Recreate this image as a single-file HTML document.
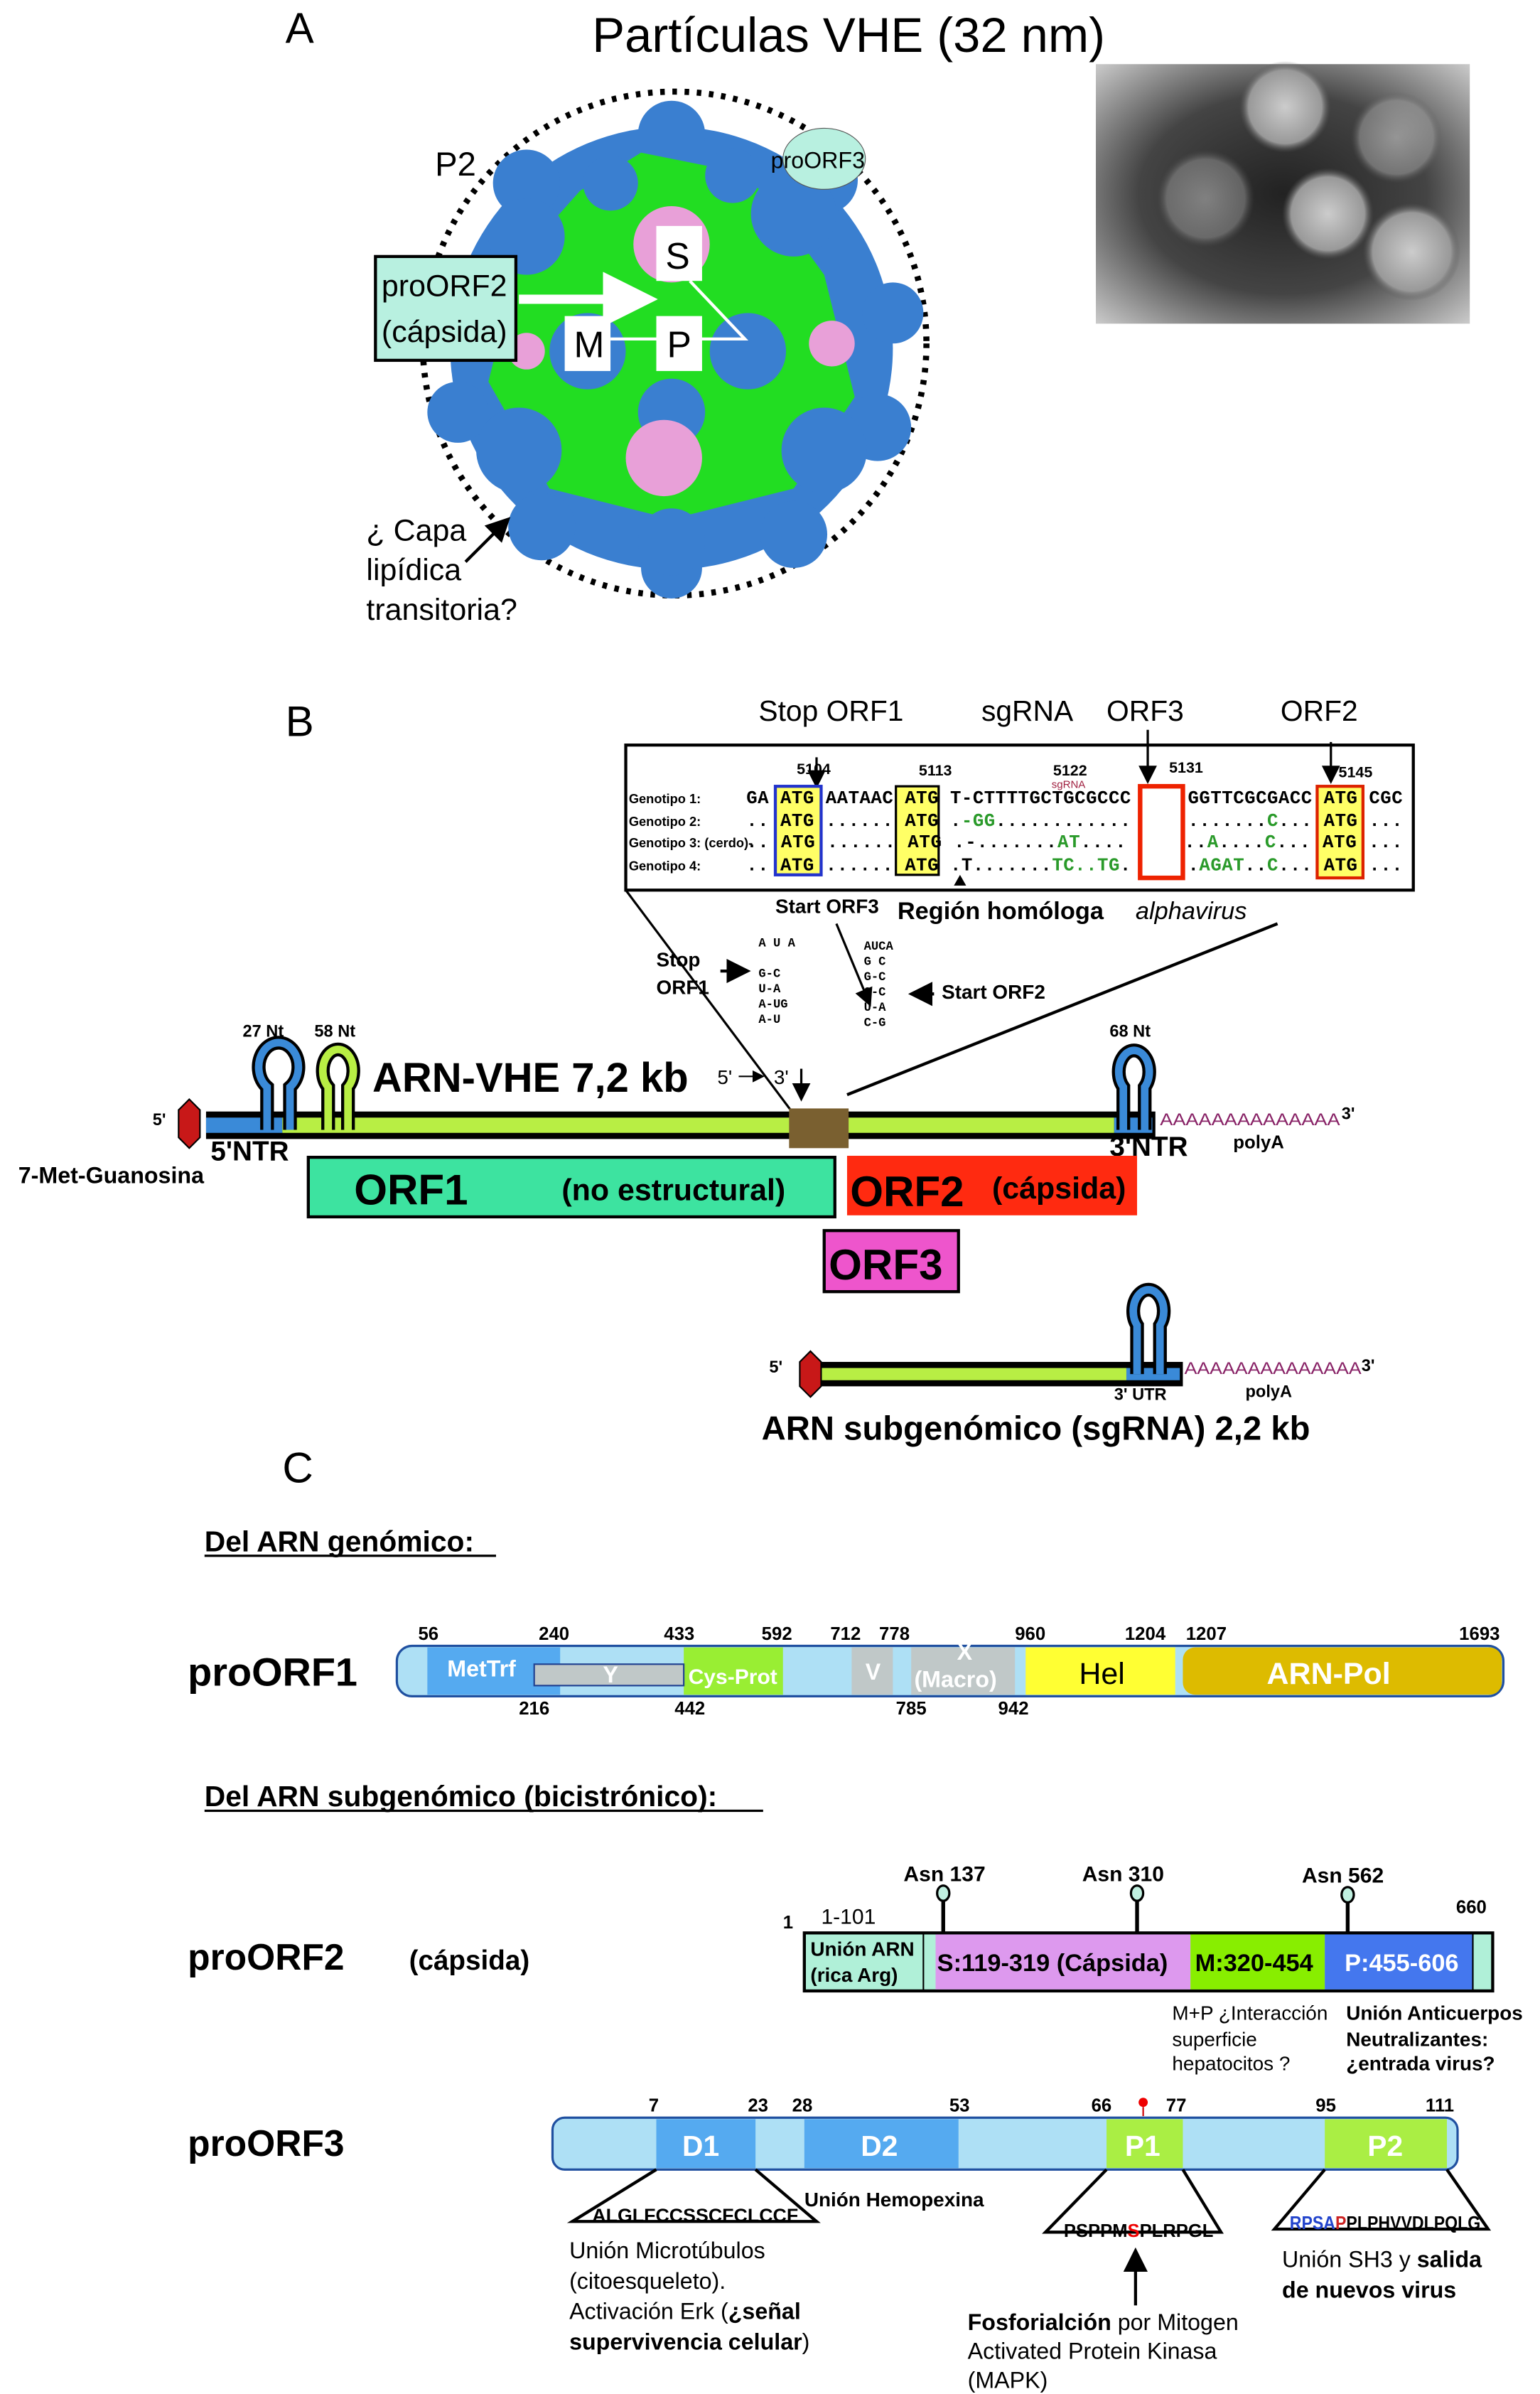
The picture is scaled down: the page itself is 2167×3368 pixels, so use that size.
<!DOCTYPE html>
<html><head><meta charset="utf-8"><style>
html,body{margin:0;padding:0;background:#fff}
svg{display:block}
text{font-family:"Liberation Sans Narrow","Liberation Sans",sans-serif}
text.m,text.m tspan{font-family:"Liberation Mono",monospace}
</style></head><body>
<svg width="2167" height="3368" viewBox="0 0 1009 1568" preserveAspectRatio="none" xmlns="http://www.w3.org/2000/svg">
<defs>
<radialGradient id="ph" cx="0.5" cy="0.5" r="0.7"><stop offset="0" stop-color="#222"/><stop offset="0.55" stop-color="#444"/><stop offset="1" stop-color="#c8c8c8"/></radialGradient>
<radialGradient id="vp" cx="0.5" cy="0.5" r="0.5"><stop offset="0" stop-color="#ccc"/><stop offset="0.8" stop-color="#999"/><stop offset="1" stop-color="#555" stop-opacity="0"/></radialGradient>
<marker id="ah" markerWidth="8" markerHeight="8" refX="7" refY="4" orient="auto"><path d="M0,0 L8,4 L0,8z" fill="#000"/></marker>
<marker id="aw" markerWidth="6" markerHeight="6" refX="5" refY="3" orient="auto"><path d="M0,0 L6,3 L0,6z" fill="#fff"/></marker>
</defs>
<!-- A -->
<text x="187" y="28" font-size="28">A</text>
<text x="388" y="34" font-size="32">Partículas VHE (32 nm)</text>
<ellipse cx="442" cy="225" rx="165" ry="165" fill="none" stroke="#000" stroke-width="4" stroke-dasharray="3,5"/>
<circle cx="440" cy="228" r="145" fill="#3a7fd0"/>
<g fill="#3a7fd0">
<circle cx="345" cy="120" r="22"/><circle cx="440" cy="88" r="22"/><circle cx="540" cy="118" r="22"/><circle cx="585" cy="205" r="20"/><circle cx="575" cy="280" r="22"/><circle cx="520" cy="350" r="22"/><circle cx="440" cy="372" r="20"/><circle cx="355" cy="345" r="22"/><circle cx="300" cy="270" r="20"/><circle cx="300" cy="190" r="18"/>
</g>
<path d="M380,125 L420,100 L470,110 L500,125 L540,180 L560,260 L520,320 L440,340 L360,320 L320,250 L340,170z" fill="#22dd22"/>
<g fill="#3a7fd0">
<circle cx="345" cy="155" r="25"/><circle cx="520" cy="140" r="28"/><circle cx="400" cy="120" r="18"/><circle cx="480" cy="115" r="18"/>
<circle cx="385" cy="230" r="25"/><circle cx="490" cy="230" r="25"/><circle cx="440" cy="270" r="22"/>
<circle cx="340" cy="295" r="28"/><circle cx="540" cy="295" r="28"/><circle cx="440" cy="355" r="22"/>
</g>
<g fill="#e8a0d8"><circle cx="440" cy="160" r="25"/><circle cx="435" cy="300" r="25"/><circle cx="545" cy="225" r="15"/><circle cx="345" cy="230" r="12"/></g>
<ellipse cx="540" cy="104" rx="27" ry="20" fill="#b8f0e0" stroke="#555" stroke-width="0.5"/>
<text x="505" y="110" font-size="15">proORF3</text>
<text x="285" y="115" font-size="22">P2</text>
<rect x="430" y="148" width="30" height="36" fill="#fff"/><text x="436" y="176" font-size="24">S</text>
<rect x="370" y="207" width="30" height="36" fill="#fff"/><text x="376" y="234" font-size="24">M</text>
<rect x="430" y="207" width="30" height="36" fill="#fff"/><text x="437" y="234" font-size="24">P</text>
<path d="M452,184 L488,222 L458,222 M400,222 L430,222" stroke="#fff" stroke-width="2" fill="none"/>
<line x1="340" y1="196" x2="425" y2="196" stroke="#fff" stroke-width="6" marker-end="url(#aw)"/>
<rect x="246" y="168" width="92" height="68" fill="#b8f0e0" stroke="#000" stroke-width="2"/>
<text x="250" y="194" font-size="20">proORF2</text><text x="250" y="224" font-size="20">(cápsida)</text>
<text x="240" y="354" font-size="20">¿ Capa</text><text x="240" y="380" font-size="20">lipídica</text><text x="240" y="406" font-size="20">transitoria?</text>
<line x1="305" y1="368" x2="333" y2="340" stroke="#000" stroke-width="2" marker-end="url(#ah)"/>
<rect x="718" y="42" width="245" height="170" fill="url(#ph)"/>
<circle cx="842" cy="70" r="30" fill="url(#vp)"/><circle cx="915" cy="90" r="30" fill="url(#vp)" opacity="0.6"/><circle cx="790" cy="130" r="32" fill="url(#vp)" opacity="0.5"/>
<circle cx="870" cy="140" r="30" fill="url(#vp)"/><circle cx="925" cy="165" r="32" fill="url(#vp)"/>
<!-- B -->
<text x="187" y="482" font-size="28">B</text>
<text x="497" y="472" font-size="19">Stop ORF1</text><text x="643" y="472" font-size="19">sgRNA</text><text x="725" y="472" font-size="19">ORF3</text><text x="839" y="472" font-size="19">ORF2</text>
<rect x="410" y="488" width="516" height="95" fill="#fff" stroke="#000" stroke-width="2"/>
<line x1="752" y1="478" x2="752" y2="512" stroke="#000" stroke-width="1.5" marker-end="url(#ah)"/>
<line x1="872" y1="486" x2="872" y2="512" stroke="#000" stroke-width="1.5" marker-end="url(#ah)"/>
<line x1="535" y1="496" x2="535" y2="515" stroke="#000" stroke-width="1.5" marker-end="url(#ah)"/>
<g font-size="10" font-weight="bold"><text x="522" y="507">5104</text><text x="602" y="508">5113</text><text x="690" y="508">5122</text><text x="766" y="506">5131</text><text x="877" y="509">5145</text></g>
<text x="689" y="516" font-size="7" fill="#a02040">sgRNA</text>
<rect x="508" y="515" width="30" height="58" fill="#ffff66" stroke="#2233cc" stroke-width="2"/>
<rect x="587" y="515" width="28" height="58" fill="#ffff66" stroke="#000" stroke-width="1.5"/>
<rect x="747" y="515" width="28" height="60" fill="#fff" stroke="#ee2200" stroke-width="3"/>
<rect x="863" y="515" width="30" height="60" fill="#ffff66" stroke="#dd2200" stroke-width="2"/>
<g font-size="8.5" font-weight="bold"><text x="412" y="526">Genotipo 1:</text><text x="412" y="541">Genotipo 2:</text><text x="412" y="555">Genotipo 3: (cerdo)-</text><text x="412" y="570">Genotipo 4:</text></g>
<g font-size="12" font-weight="bold">
<text class="m" x="489" y="526" textLength="430" lengthAdjust="spacing" xml:space="preserve">GA ATG AATAAC ATG T-CTTTTGCTGCGCCC     GGTTCGCGACC ATG CGC</text>
<text class="m" x="489" y="541" textLength="430" lengthAdjust="spacing" xml:space="preserve">.. ATG ...... ATG .<tspan fill="#2a9a2a">-GG</tspan>............     .......<tspan fill="#2a9a2a">C</tspan>... ATG ...</text>
<text class="m" x="489" y="555" textLength="430" lengthAdjust="spacing" xml:space="preserve">.. ATG ...... ATG .-.......<tspan fill="#2a9a2a">AT</tspan>....     ..<tspan fill="#2a9a2a">A</tspan>....<tspan fill="#2a9a2a">C</tspan>... ATG ...</text>
<text class="m" x="489" y="570" textLength="430" lengthAdjust="spacing" xml:space="preserve">.. ATG ...... ATG .T.......<tspan fill="#2a9a2a">TC..TG</tspan>.     .<tspan fill="#2a9a2a">AGAT</tspan>..<tspan fill="#2a9a2a">C</tspan>... ATG ...</text>
</g>
<path d="M625,580 l4,-7 l4,7z" fill="#000"/>
<text x="508" y="598" font-size="13" font-weight="bold">Start ORF3</text>
<text x="588" y="602" font-size="16" font-weight="bold">Región homóloga</text><text x="744" y="602" font-size="16" font-style="italic">alphavirus</text>
<line x1="410" y1="583" x2="518" y2="727" stroke="#000" stroke-width="1.5"/>
<line x1="837" y1="605" x2="555" y2="717" stroke="#000" stroke-width="2"/>
<g font-size="8" font-weight="bold"><text class="m" x="497" y="620">A U A</text><text class="m" x="497" y="640">G-C</text><text class="m" x="497" y="650">U-A</text><text class="m" x="497" y="660">A-UG</text><text class="m" x="497" y="670">A-U</text>
<text class="m" x="566" y="622">AUCA</text><text class="m" x="566" y="632">G  C</text><text class="m" x="566" y="642">G-C</text><text class="m" x="566" y="652">G-C</text><text class="m" x="566" y="662">U-A</text><text class="m" x="566" y="672">C-G</text></g>
<text x="430" y="633" font-size="13" font-weight="bold">Stop</text><text x="430" y="651" font-size="13" font-weight="bold">ORF1</text>
<line x1="472" y1="636" x2="490" y2="636" stroke="#000" stroke-width="2" marker-end="url(#ah)"/>
<line x1="548" y1="605" x2="570" y2="658" stroke="#000" stroke-width="1.5" marker-end="url(#ah)"/>
<line x1="612" y1="651" x2="597" y2="651" stroke="#000" stroke-width="2" marker-end="url(#ah)"/>
<text x="617" y="654" font-size="13" font-weight="bold">Start ORF2</text>
<text x="159" y="679" font-size="11" font-weight="bold">27 Nt</text><text x="206" y="679" font-size="11" font-weight="bold">58 Nt</text><text x="727" y="679" font-size="11" font-weight="bold">68 Nt</text>
<!-- genome -->
<rect x="135" y="728" width="622" height="18" fill="#000"/>
<rect x="135" y="732" width="50" height="10" fill="#3a8ad8"/>
<rect x="185" y="732" width="545" height="10" fill="#b8ee44"/>
<rect x="730" y="732" width="25" height="10" fill="#3a8ad8"/>
<polygon points="117,727 124,720 131,727 131,745 124,752 117,745" fill="#c81818" stroke="#000"/>
<text x="100" y="737" font-size="11" font-weight="bold">5'</text>
<g fill="none" stroke-width="5"><path d="M175,740 L175,712 A13,16 0 1 1 190,712 L190,740" stroke="#000" stroke-width="9"/><path d="M175,740 L175,712 A13,16 0 1 1 190,712 L190,740" stroke="#3a8ad8"/>
<path d="M215,740 L215,712 A10,14 0 1 1 228,712 L228,740" stroke="#000" stroke-width="9"/><path d="M215,740 L215,712 A10,14 0 1 1 228,712 L228,740" stroke="#b8ee44"/>
<path d="M736,740 L736,712 A10,14 0 1 1 750,712 L750,740" stroke="#000" stroke-width="9"/><path d="M736,740 L736,712 A10,14 0 1 1 750,712 L750,740" stroke="#3a8ad8"/></g>
<text x="244" y="715" font-size="27" font-weight="bold">ARN-VHE 7,2 kb</text>
<text x="470" y="710" font-size="13">5'</text><line x1="484" y1="705" x2="500" y2="705" stroke="#000" marker-end="url(#ah)"/><text x="507" y="710" font-size="13">3'</text>
<line x1="525" y1="700" x2="525" y2="720" stroke="#000" stroke-width="1.5" marker-end="url(#ah)"/>
<rect x="517" y="726" width="39" height="26" fill="#7a6030"/>
<text x="760" y="737" font-size="11" fill="#882266" textLength="118" lengthAdjust="spacingAndGlyphs">AAAAAAAAAAAAAA</text><text x="879" y="733" font-size="11" font-weight="bold">3'</text>
<text x="138" y="760" font-size="18" font-weight="bold">5'NTR</text><text x="12" y="775" font-size="15" font-weight="bold">7-Met-Guanosina</text>
<text x="727" y="757" font-size="18" font-weight="bold">3'NTR</text><text x="808" y="752" font-size="12" font-weight="bold">polyA</text>
<rect x="202" y="758" width="345" height="39" fill="#3de3a0" stroke="#000" stroke-width="2"/>
<text x="232" y="789" font-size="28" font-weight="bold">ORF1</text><text x="368" y="786" font-size="20" font-weight="bold">(no estructural)</text>
<rect x="555" y="757" width="190" height="39" fill="#ff2a10"/>
<text x="557" y="790" font-size="28" font-weight="bold">ORF2</text><text x="650" y="785" font-size="20" font-weight="bold">(cápsida)</text>
<rect x="540" y="806" width="88" height="40" fill="#ee55cc" stroke="#000" stroke-width="2"/>
<text x="543" y="838" font-size="28" font-weight="bold">ORF3</text>
<!-- sgRNA -->
<rect x="538" y="892" width="237" height="16" fill="#000"/><rect x="538" y="896" width="200" height="8" fill="#b8ee44"/><rect x="738" y="896" width="35" height="8" fill="#3a8ad8"/>
<polygon points="524,892 531,885 538,892 538,908 531,915 524,908" fill="#c81818" stroke="#000"/>
<text x="504" y="899" font-size="11" font-weight="bold">5'</text>
<g fill="none"><path d="M745,900 L745,868 A10,14 0 1 1 760,868 L760,900" stroke="#000" stroke-width="9"/><path d="M745,900 L745,868 A10,14 0 1 1 760,868 L760,900" stroke="#3a8ad8" stroke-width="5"/></g>
<text x="776" y="900" font-size="11" fill="#882266" textLength="116" lengthAdjust="spacingAndGlyphs">AAAAAAAAAAAAAA</text><text x="892" y="898" font-size="11" font-weight="bold">3'</text>
<text x="730" y="917" font-size="11" font-weight="bold">3' UTR</text><text x="816" y="915" font-size="11" font-weight="bold">polyA</text>
<text x="499" y="943" font-size="22" font-weight="bold">ARN subgenómico (sgRNA) 2,2 kb</text>
<!-- C -->
<text x="185" y="971" font-size="28">C</text>
<text x="134" y="1016" font-size="19" font-weight="bold">Del ARN genómico:</text>
<line x1="134" y1="1019" x2="325" y2="1019" stroke="#000" stroke-width="1.5"/>
<text x="123" y="1104" font-size="26" font-weight="bold">proORF1</text>
<rect x="260" y="1078" width="725" height="33" rx="10" fill="#aee0f5" stroke="#2050a0" stroke-width="1.5"/>
<rect x="280" y="1079" width="87" height="31" fill="#55aaf0"/>
<rect x="448" y="1079" width="65" height="31" fill="#99ee33"/>
<rect x="558" y="1079" width="27" height="31" fill="#c0c8c8"/>
<rect x="597" y="1079" width="68" height="31" fill="#c0c8c8"/>
<rect x="672" y="1079" width="98" height="31" fill="#ffff33"/>
<rect x="775" y="1079" width="209" height="31" rx="8" fill="#ddbb00"/>
<rect x="350" y="1090" width="98" height="14" fill="#c0c8c8" stroke="#204090"/>
<g font-size="15" fill="#fff" font-weight="bold"><text x="293" y="1098">MetTrf</text><text x="395" y="1102">Y</text><text x="451" y="1103" font-size="14">Cys-Prot</text><text x="567" y="1100">V</text><text x="627" y="1087">X</text><text x="599" y="1105">(Macro)</text><text x="830" y="1103" font-size="20">ARN-Pol</text></g>
<text x="707" y="1103" font-size="20">Hel</text>
<g font-size="12" font-weight="bold"><text x="274" y="1074">56</text><text x="353" y="1074">240</text><text x="435" y="1074">433</text><text x="499" y="1074">592</text><text x="544" y="1074">712</text><text x="576" y="1074">778</text><text x="665" y="1074">960</text><text x="737" y="1074">1204</text><text x="777" y="1074">1207</text><text x="956" y="1074">1693</text>
<text x="340" y="1123">216</text><text x="442" y="1123">442</text><text x="587" y="1123">785</text><text x="654" y="1123">942</text></g>
<text x="134" y="1183" font-size="19" font-weight="bold">Del ARN subgenómico (bicistrónico):</text>
<line x1="134" y1="1186" x2="500" y2="1186" stroke="#000" stroke-width="1.5"/>
<text x="123" y="1290" font-size="24" font-weight="bold">proORF2</text><text x="268" y="1290" font-size="18" font-weight="bold">(cápsida)</text>
<g stroke="#000" stroke-width="2.5"><line x1="618" y1="1243" x2="618" y2="1267"/><line x1="745" y1="1243" x2="745" y2="1267"/><line x1="883" y1="1244" x2="883" y2="1267"/></g>
<g fill="#c0f0e0" stroke="#000" stroke-width="1.5"><ellipse cx="618" cy="1240" rx="4" ry="5"/><ellipse cx="745" cy="1240" rx="4" ry="5"/><ellipse cx="883" cy="1241" rx="4" ry="5"/></g>
<g font-size="14" font-weight="bold"><text x="592" y="1232">Asn 137</text><text x="709" y="1232">Asn 310</text><text x="853" y="1233">Asn 562</text></g>
<text x="954" y="1253" font-size="12" font-weight="bold">660</text><text x="513" y="1263" font-size="12" font-weight="bold">1</text><text x="538" y="1260" font-size="14">1-101</text>
<rect x="527" y="1266" width="451" height="38" fill="#b0f0d8" stroke="#000" stroke-width="2"/>
<rect x="613" y="1267" width="167" height="36" fill="#dd99ee"/><rect x="780" y="1267" width="88" height="36" fill="#88ee00"/><rect x="868" y="1267" width="97" height="36" fill="#4477ee"/>
<line x1="605" y1="1266" x2="605" y2="1304" stroke="#000"/><line x1="965" y1="1266" x2="965" y2="1304" stroke="#000"/>
<g font-size="13" font-weight="bold"><text x="531" y="1281">Unión ARN</text><text x="531" y="1298">(rica Arg)</text></g>
<g font-size="16" font-weight="bold"><text x="614" y="1291">S:119-319 (Cápsida)</text><text x="783" y="1291">M:320-454</text><text x="881" y="1291" fill="#fff">P:455-606</text></g>
<g font-size="13"><text x="768" y="1323">M+P ¿Interacción</text><text x="768" y="1340">superficie</text><text x="768" y="1356">hepatocitos ?</text></g>
<g font-size="13" font-weight="bold"><text x="882" y="1323">Unión Anticuerpos</text><text x="882" y="1340">Neutralizantes:</text><text x="882" y="1356">¿entrada virus?</text></g>
<text x="123" y="1412" font-size="24" font-weight="bold">proORF3</text>
<rect x="362" y="1387" width="593" height="34" rx="8" fill="#aee0f5" stroke="#2050a0" stroke-width="1.5"/>
<rect x="430" y="1388" width="65" height="32" fill="#55aaf0"/><rect x="527" y="1388" width="101" height="32" fill="#55aaf0"/>
<rect x="725" y="1388" width="50" height="32" fill="#aaee44"/><rect x="868" y="1388" width="80" height="32" fill="#aaee44"/>
<g font-size="19" font-weight="bold" fill="#fff"><text x="447" y="1412">D1</text><text x="564" y="1412">D2</text><text x="737" y="1412">P1</text><text x="896" y="1412">P2</text></g>
<g font-size="12" font-weight="bold"><text x="425" y="1383">7</text><text x="490" y="1383">23</text><text x="519" y="1383">28</text><text x="622" y="1383">53</text><text x="715" y="1383">66</text><text x="764" y="1383">77</text><text x="862" y="1383">95</text><text x="934" y="1383">111</text></g>
<line x1="749" y1="1386" x2="749" y2="1380" stroke="#c00"/><circle cx="749" cy="1377" r="3" fill="#e00"/>
<g fill="none" stroke="#000" stroke-width="2"><path d="M430,1421 L375,1455 L535,1455 L495,1421"/><path d="M725,1421 L685,1462 L800,1462 L775,1421"/><path d="M868,1421 L835,1460 L975,1460 L948,1421"/></g>
<text x="388" y="1455" font-size="12" font-weight="bold" textLength="135" lengthAdjust="spacingAndGlyphs">ALGLFCCSSCFCLCCF</text>
<text x="527" y="1445" font-size="13" font-weight="bold">Unión Hemopexina</text>
<text x="697" y="1465" font-size="12" font-weight="bold" textLength="98" lengthAdjust="spacingAndGlyphs">PSPPM<tspan fill="#e00">S</tspan>PLRPGL</text>
<text x="845" y="1460" font-size="12" font-weight="bold" textLength="125" lengthAdjust="spacingAndGlyphs"><tspan fill="#2244cc">RPSA</tspan><tspan fill="#cc2222">P</tspan>PLPHVVDLPQLG</text>
<g font-size="15"><text x="373" y="1479">Unión Microtúbulos</text><text x="373" y="1499">(citoesqueleto).</text><text x="373" y="1519">Activación Erk (<tspan font-weight="bold">¿señal</tspan></text><text x="373" y="1539"><tspan font-weight="bold">supervivencia celular</tspan>)</text></g>
<g font-size="15"><text x="840" y="1485">Unión SH3 y <tspan font-weight="bold">salida</tspan></text><text x="840" y="1505" font-weight="bold">de nuevos virus</text></g>
<line x1="744" y1="1510" x2="744" y2="1474" stroke="#000" stroke-width="2" marker-end="url(#ah)"/>
<g font-size="15"><text x="634" y="1526"><tspan font-weight="bold">Fosforialción</tspan> por Mitogen</text><text x="634" y="1545">Activated Protein Kinasa</text><text x="634" y="1564">(MAPK)</text></g>
</svg>
</body></html>
